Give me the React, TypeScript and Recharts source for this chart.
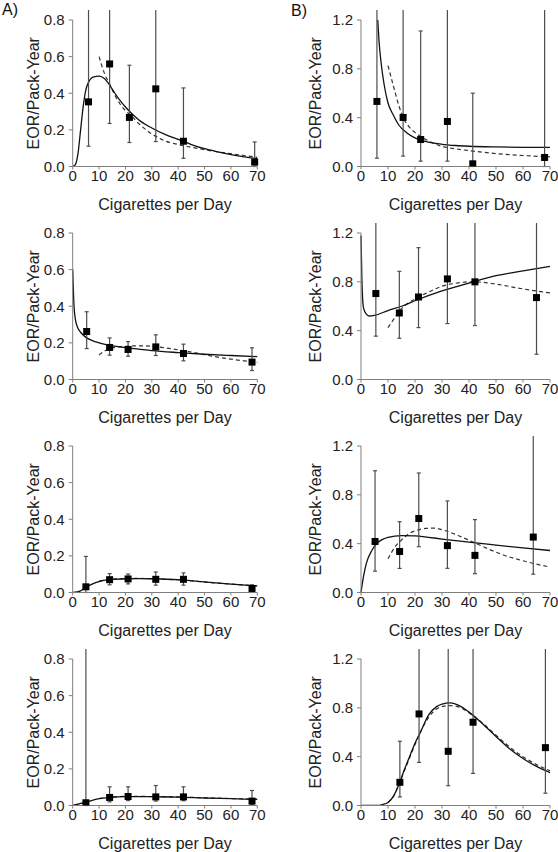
import { ComposedChart, Scatter, Line, XAxis, YAxis, ErrorBar } from "recharts";

const cigTicks = [0, 10, 20, 30, 40, 50, 60, 70];
const ticksA = [0, 0.2, 0.4, 0.6, 0.8];
const ticksB = [0, 0.4, 0.8, 1.2];

// A) top
const a1X = [6, 14, 21.5, 31.5, 42, 69];
const a1Y = [0.353, 0.56, 0.268, 0.424, 0.138, 0.024];
const a1Lo = [0.111, 0.235, 0.131, 0.136, 0.045, 0];
const a1Hi = [1.0, 1.0, 0.553, 1.0, 0.429, 0.134];
const a1SolidX = [0, 1, 2, 3, 4, 5, 6, 8, 10, 12, 14, 16, 18, 20, 22, 25, 30, 35, 40, 45, 50, 55, 60, 65, 70];
const a1SolidY = [0, 0.01, 0.07, 0.2, 0.33, 0.42, 0.46, 0.49, 0.493, 0.48, 0.445, 0.4, 0.36, 0.325, 0.295, 0.255, 0.21, 0.175, 0.148, 0.12, 0.097, 0.08, 0.065, 0.053, 0.043];
const a1DashX = [10, 12, 14, 16, 18, 20, 22, 25, 30, 35, 40, 45, 50, 55, 60, 65, 70];
const a1DashY = [0.6, 0.51, 0.45, 0.39, 0.34, 0.305, 0.28, 0.235, 0.178, 0.14, 0.12, 0.105, 0.092, 0.08, 0.07, 0.06, 0.05];

// B) top
const b1X = [5.9, 15.6, 22.1, 32, 41.4, 68];
const b1Y = [0.533, 0.402, 0.221, 0.369, 0.022, 0.074];
const b1Lo = [0.068, 0.085, 0.044, 0.044, 0, 0];
const b1Hi = [1.5, 1.5, 1.11, 1.5, 0.601, 1.5];
const b1SolidX = [6.2, 6.7, 7.5, 8.5, 10, 12, 14, 17, 20, 25, 30, 35, 40, 50, 60, 70];
const b1SolidY = [1.2, 1.02, 0.84, 0.68, 0.52, 0.42, 0.34, 0.275, 0.235, 0.2, 0.182, 0.172, 0.166, 0.16, 0.157, 0.156];
const b1DashX = [10, 12, 14, 16, 18, 20, 25, 30, 35, 40, 50, 60, 70];
const b1DashY = [0.826, 0.66, 0.5, 0.385, 0.32, 0.279, 0.21, 0.165, 0.145, 0.13, 0.106, 0.09, 0.079];

// A) second
const a2X = [5.3, 14, 21, 31.5, 42, 68];
const a2Y = [0.262, 0.175, 0.164, 0.178, 0.142, 0.095];
const a2Lo = [0.169, 0.133, 0.127, 0.131, 0.102, 0.049];
const a2Hi = [0.37, 0.227, 0.207, 0.244, 0.193, 0.173];
const a2SolidX = [0, 0.5, 1, 2, 3, 5, 7, 10, 14, 20, 25, 30, 40, 50, 60, 70];
const a2SolidY = [0.6, 0.4, 0.33, 0.28, 0.258, 0.23, 0.215, 0.2, 0.186, 0.174, 0.166, 0.158, 0.147, 0.138, 0.131, 0.125];
const a2DashX = [10, 12, 14, 17, 21, 25, 30, 35, 40, 45, 50, 55, 60, 65, 70];
const a2DashY = [0.133, 0.155, 0.168, 0.177, 0.182, 0.184, 0.182, 0.173, 0.162, 0.15, 0.135, 0.122, 0.111, 0.102, 0.094];

// B) second
const b2X = [5.5, 14.2, 21.3, 32, 42.2, 65];
const b2Y = [0.704, 0.545, 0.676, 0.824, 0.8, 0.671];
const b2Lo = [0.355, 0.338, 0.425, 0.458, 0.442, 0.207];
const b2Hi = [1.5, 0.886, 1.08, 1.5, 1.5, 1.5];
const b2SolidX = [0, 0.3, 0.6, 1, 2, 3, 5, 10, 15, 20, 30, 40, 50, 60, 70];
const b2SolidY = [1.18, 0.85, 0.66, 0.58, 0.535, 0.52, 0.525, 0.565, 0.6, 0.645, 0.725, 0.79, 0.85, 0.89, 0.927];
const b2DashX = [10, 12, 15, 20, 25, 30, 35, 40, 45, 50, 55, 60, 65, 70];
const b2DashY = [0.425, 0.49, 0.58, 0.66, 0.715, 0.764, 0.788, 0.8, 0.796, 0.782, 0.762, 0.742, 0.725, 0.71];

// A) third
const a3X = [5, 14, 21, 31.5, 42, 68];
const a3Y = [0.031, 0.07, 0.074, 0.072, 0.072, 0.022];
const a3Lo = [0, 0.042, 0.047, 0.04, 0.04, 0.01];
const a3Hi = [0.197, 0.103, 0.101, 0.112, 0.107, 0.042];
const a3SolidX = [0, 3, 5, 8, 10, 14, 20, 25, 30, 40, 50, 60, 70];
const a3SolidY = [0, 0.009, 0.028, 0.05, 0.06, 0.07, 0.075, 0.076, 0.075, 0.07, 0.058, 0.046, 0.036];
const a3DashX = [10, 14, 20, 25, 30, 40, 50, 60, 70];
const a3DashY = [0.062, 0.071, 0.076, 0.077, 0.075, 0.069, 0.057, 0.046, 0.036];

// B) third
const b3X = [5.2, 14.3, 21.4, 32, 42.2, 63.8];
const b3Y = [0.418, 0.336, 0.606, 0.384, 0.304, 0.454];
const b3Lo = [0.175, 0.197, 0.375, 0.198, 0.154, 0.15];
const b3Hi = [0.997, 0.58, 0.979, 0.75, 0.597, 1.5];
const b3SolidX = [0, 1, 2, 4, 6, 8, 10, 15, 20, 25, 30, 35, 40, 50, 60, 70];
const b3SolidY = [0, 0.14, 0.24, 0.344, 0.405, 0.435, 0.452, 0.466, 0.464, 0.452, 0.438, 0.425, 0.412, 0.388, 0.365, 0.344];
const b3DashX = [10, 12.5, 15, 18, 21, 24, 27, 31, 36, 41, 47, 53, 60, 65, 70];
const b3DashY = [0.276, 0.37, 0.43, 0.485, 0.512, 0.525, 0.527, 0.508, 0.467, 0.418, 0.358, 0.305, 0.26, 0.232, 0.208];

// A) bottom
const a4X = [5, 14, 21, 31.5, 42, 68];
const a4Y = [0.015, 0.044, 0.049, 0.047, 0.047, 0.024];
const a4Lo = [0, 0.02, 0.027, 0.024, 0.026, 0.007];
const a4Hi = [1.0, 0.102, 0.102, 0.109, 0.102, 0.082];
const a4SolidX = [0, 5, 10, 14, 20, 30, 40, 50, 60, 70];
const a4SolidY = [0, 0.018, 0.037, 0.044, 0.049, 0.048, 0.046, 0.041, 0.037, 0.033];
const a4DashX = [10, 14, 20, 30, 40, 50, 60, 70];
const a4DashY = [0.038, 0.045, 0.05, 0.049, 0.047, 0.042, 0.038, 0.034];

// B) bottom
const b4X = [14.4, 21.5, 32.3, 41.5, 68.3];
const b4Y = [0.19, 0.75, 0.444, 0.682, 0.474];
const b4Lo = [0.07, 0.353, 0.162, 0.263, 0.101];
const b4Hi = [0.526, 1.5, 1.5, 1.5, 1.5];
const b4SolidX = [0, 6, 8, 10, 12, 14, 16, 18, 20, 22, 25, 28, 30, 33, 36, 40, 45, 50, 55, 60, 65, 70];
const b4SolidY = [0, 0, 0.008, 0.025, 0.075, 0.17, 0.29, 0.4, 0.51, 0.6, 0.74, 0.81, 0.83, 0.84, 0.822, 0.765, 0.67, 0.565, 0.465, 0.385, 0.32, 0.27];
const b4DashX = [10, 12, 14, 16, 18, 20, 22, 25, 28, 30, 33, 36, 40, 45, 50, 55, 60, 65, 70];
const b4DashY = [0.025, 0.075, 0.17, 0.28, 0.39, 0.5, 0.6, 0.72, 0.79, 0.81, 0.818, 0.808, 0.76, 0.675, 0.575, 0.48, 0.4, 0.335, 0.285];

const toPoints = (x: number[], y: number[], lo: number[], hi: number[]) =>
  x.map((v, i) => ({ x: v, y: y[i], err: [y[i] - lo[i], hi[i] - y[i]] }));
const toCurve = (x: number[], y: number[]) => x.map((v, i) => ({ x: v, y: y[i] }));

const Square = (p: any) => (
  <rect x={p.cx - 3.5} y={p.cy - 3.5} width={7} height={7} fill="#000" />
);

const PLOT_H = 146.5;
const TOP = 10;
const XAXIS_H = 47;

function Panel({ left, top, axisW, plotW, yMax, yTicks, labelOffset, pts, solid, dashed }: any) {
  const width = 279;
  return (
    <div style={{ position: "absolute", left, top: top - TOP }}>
      <ComposedChart
        width={width}
        height={TOP + PLOT_H + XAXIS_H}
        margin={{ top: TOP, right: width - axisW - plotW, bottom: 0, left: 0 }}
      >
        <XAxis
          type="number"
          dataKey="x"
          domain={[0, 70]}
          ticks={cigTicks}
          height={XAXIS_H}
          stroke="#7f7f7f"
          tickSize={3}
          tickMargin={1}
          tick={{ fill: "#222", fontSize: 15 }}
          label={{ value: "Cigarettes per Day", position: "insideBottom", offset: 4, fill: "#222", fontSize: 16 }}
        />
        <YAxis
          type="number"
          dataKey="y"
          domain={[0, yMax]}
          ticks={yTicks}
          allowDataOverflow
          width={axisW}
          stroke="#7f7f7f"
          tickSize={4}
          tickMargin={4}
          tick={{ fill: "#222", fontSize: 15 }}
          tickFormatter={(v: number) => v.toFixed(1)}
          label={{ value: "EOR/Pack-Year", angle: -90, position: "insideLeft", offset: labelOffset, textAnchor: "middle", fill: "#222", fontSize: 16 }}
        />
        <Line data={dashed} dataKey="y" type="monotone" stroke="#333" strokeWidth={1.2} strokeDasharray="4 3" dot={false} isAnimationActive={false} />
        <Line data={solid} dataKey="y" type="monotone" stroke="#111" strokeWidth={1.3} dot={false} isAnimationActive={false} />
        <Scatter data={pts} dataKey="y" shape={Square} isAnimationActive={false}>
          <ErrorBar dataKey="err" direction="y" width={2} stroke="#4d4d4d" strokeWidth={1.2} isAnimationActive={false} />
        </Scatter>
      </ComposedChart>
    </div>
  );
}

const rowTops = [19.5, 233.3, 445.5, 659];

export default function App() {
  const colA = { left: 0, axisW: 72.7, plotW: 184.6, yMax: 0.8, yTicks: ticksA, labelOffset: 33 };
  const colB = { left: 279, axisW: 82, plotW: 189, yMax: 1.2, yTicks: ticksB, labelOffset: 36 };
  return (
    <div style={{ position: "absolute", left: 0, top: 0, width: 558, height: 852, background: "#fff", fontFamily: "'Liberation Sans', Arial, sans-serif" }}>
      <div style={{ position: "absolute", left: 2, top: 1, fontSize: 16, color: "#111" }}>A)</div>
      <div style={{ position: "absolute", left: 291, top: 2, fontSize: 16, color: "#111" }}>B)</div>
      <Panel {...colA} top={rowTops[0]} pts={toPoints(a1X, a1Y, a1Lo, a1Hi)} solid={toCurve(a1SolidX, a1SolidY)} dashed={toCurve(a1DashX, a1DashY)} />
      <Panel {...colB} top={rowTops[0]} pts={toPoints(b1X, b1Y, b1Lo, b1Hi)} solid={toCurve(b1SolidX, b1SolidY)} dashed={toCurve(b1DashX, b1DashY)} />
      <Panel {...colA} top={rowTops[1]} pts={toPoints(a2X, a2Y, a2Lo, a2Hi)} solid={toCurve(a2SolidX, a2SolidY)} dashed={toCurve(a2DashX, a2DashY)} />
      <Panel {...colB} top={rowTops[1]} pts={toPoints(b2X, b2Y, b2Lo, b2Hi)} solid={toCurve(b2SolidX, b2SolidY)} dashed={toCurve(b2DashX, b2DashY)} />
      <Panel {...colA} top={rowTops[2]} pts={toPoints(a3X, a3Y, a3Lo, a3Hi)} solid={toCurve(a3SolidX, a3SolidY)} dashed={toCurve(a3DashX, a3DashY)} />
      <Panel {...colB} top={rowTops[2]} pts={toPoints(b3X, b3Y, b3Lo, b3Hi)} solid={toCurve(b3SolidX, b3SolidY)} dashed={toCurve(b3DashX, b3DashY)} />
      <Panel {...colA} top={rowTops[3]} pts={toPoints(a4X, a4Y, a4Lo, a4Hi)} solid={toCurve(a4SolidX, a4SolidY)} dashed={toCurve(a4DashX, a4DashY)} />
      <Panel {...colB} top={rowTops[3]} pts={toPoints(b4X, b4Y, b4Lo, b4Hi)} solid={toCurve(b4SolidX, b4SolidY)} dashed={toCurve(b4DashX, b4DashY)} />
    </div>
  );
}
